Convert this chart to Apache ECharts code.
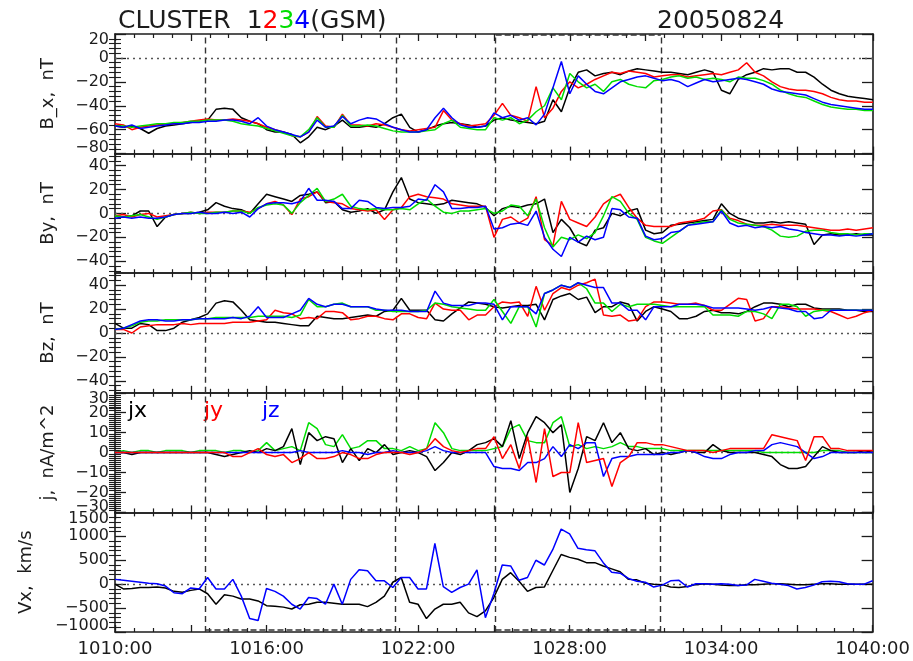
<!DOCTYPE html>
<html>
<head>
<meta charset="utf-8">
<script src="https://cdn.jsdelivr.net/npm/echarts@6/dist/echarts.min.js"></script>
<style>
  html, body { margin: 0; padding: 0; background: #ffffff; }
  #chart { width: 913px; height: 661px; }
</style>
</head>
<body>
<div id="chart"></div>
<script>
// Sample spacing of the traces, in seconds after 10:10:00 UT
const STEP_SEC = 20;
const START_MIN = 10 * 60 + 10;   // 1010 UT
const END_SEC = 1800;             // 1040 UT

// Times (s) of the four reference epochs marked by dashed lines
const eventSec = [215, 667, 904, 1296];

// ---- Magnetic field, GSM (nT), spacecraft C1..C4 ----
const bxC1 = [-57,-58,-57,-59,-63,-59,-57,-56,-55,-54,
  -53,-52,-43,-42,-43,-50,-53,-55,-60,-62,
  -62,-64,-71,-66,-58,-60,-57,-52,-58,-58,
  -57,-58,-55,-50,-47,-58,-62,-60,-57,-55,
  -54,-55,-56,-58,-57,-52,-50,-52,-53,-54,
  -55,-53,-35,-45,-25,-12,-10,-15,-13,-12,
  -14,-11,-9,-10,-11,-12,-12,-13,-14,-12,
  -10,-12,-27,-30,-18,-14,-12,-9,-10,-9,
  -9,-12,-12,-16,-22,-27,-30,-32,-33,-34,
  -35];
const bxC2 = [-55,-56,-60,-58,-57,-56,-55,-55,-54,-53,
  -52,-51,-52,-52,-51,-52,-53,-55,-58,-60,
  -62,-65,-66,-62,-49,-57,-58,-47,-56,-56,
  -57,-55,-56,-58,-60,-61,-60,-59,-58,-44,
  -52,-55,-57,-56,-55,-48,-38,-48,-50,-53,
  -24,-50,-42,-28,-20,-25,-22,-18,-15,-12,
  -13,-11,-12,-13,-16,-15,-14,-14,-16,-15,
  -14,-13,-14,-12,-10,-4,-12,-15,-20,-24,
  -26,-27,-27,-28,-30,-33,-35,-36,-36,-37,
  -37];
const bxC3 = [-57,-57,-58,-57,-56,-55,-55,-54,-54,-53,
  -53,-52,-52,-52,-53,-55,-56,-57,-59,-61,
  -63,-65,-66,-60,-50,-58,-58,-48,-57,-57,
  -56,-57,-59,-61,-62,-62,-62,-61,-60,-55,
  -52,-58,-59,-60,-60,-50,-52,-50,-55,-52,
  -45,-40,-25,-35,-13,-20,-25,-22,-28,-20,
  -18,-22,-24,-25,-19,-18,-16,-15,-17,-16,
  -18,-17,-18,-20,-16,-17,-17,-19,-22,-27,
  -30,-32,-33,-36,-39,-41,-42,-43,-43,-44,
  -44];
const bxC4 = [-57,-58,-56,-59,-58,-57,-56,-55,-55,-54,
  -54,-53,-53,-52,-52,-53,-55,-50,-57,-60,
  -62,-64,-66,-62,-52,-58,-57,-49,-55,-52,
  -50,-51,-55,-58,-60,-62,-62,-60,-50,-42,
  -50,-56,-58,-58,-57,-46,-50,-48,-52,-50,
  -56,-47,-25,-3,-30,-15,-22,-28,-30,-25,
  -20,-18,-16,-15,-17,-19,-18,-20,-24,-21,
  -18,-20,-19,-18,-17,-18,-20,-22,-26,-28,
  -29,-30,-31,-34,-37,-39,-40,-41,-42,-43,
  -43];

const byC1 = [-2,-3,-2,2,2,-11,-3,-1,0,0,
  1,3,9,6,4,3,0,8,16,14,
  12,10,15,16,18,9,10,3,1,2,
  4,0,3,18,30,12,9,8,7,8,
  11,10,9,8,5,-2,4,6,5,7,
  8,12,-16,-5,-12,-24,-27,-14,-12,0,
  -2,2,4,-14,-17,-16,-10,-9,-8,-7,
  -6,-5,8,0,-4,-6,-8,-8,-7,-8,
  -7,-8,-9,-26,-18,-17,-18,-18,-17,-18,
  -18];
const byC2 = [-2,-1,-3,-1,0,-3,-2,-1,0,1,
  0,1,1,1,2,2,1,4,8,10,
  7,-1,12,14,18,10,9,8,4,3,
  2,3,-5,3,5,14,16,14,13,12,
  8,7,6,6,6,-20,-5,-3,-8,-4,
  14,-22,-27,10,-5,-8,-11,-3,8,13,
  16,5,-4,-10,-11,-11,-11,-8,-7,-6,
  -4,2,3,-4,-6,-9,-10,-10,-9,-10,
  -10,-10,-11,-12,-13,-14,-14,-13,-14,-13,
  -12];
const byC3 = [-2,-3,-2,-1,-3,-5,-3,-1,0,1,
  0,0,1,1,2,2,0,5,7,8,
  7,0,9,15,21,10,12,16,6,4,
  3,4,3,3,4,3,8,12,6,1,
  0,2,2,3,4,0,2,7,6,-2,
  12,-12,-28,-20,-22,-18,-21,-16,-2,14,
  10,0,-5,-20,-23,-25,-20,-15,-10,-8,
  -7,-7,3,-5,-8,-9,-10,-11,-14,-19,
  -20,-19,-15,-14,-14,-16,-17,-17,-18,-17,
  -17];
const byC4 = [-4,-3,-4,-3,-4,-4,-3,-1,0,0,
  1,0,0,1,0,1,-3,4,8,9,
  9,8,10,21,11,11,10,4,4,11,
  10,5,4,5,5,6,12,11,24,18,
  4,4,5,5,6,-13,-12,-9,-8,-10,
  2,-20,-30,-36,-20,-24,-19,-22,-20,4,
  3,-3,-4,-19,-22,-21,-16,-15,-10,-9,
  -8,-7,2,-8,-11,-10,-12,-11,-12,-11,
  -13,-14,-16,-17,-18,-18,-19,-18,-19,-18,
  -17];

const bzC1 = [8,4,4,8,7,2,2,4,9,11,
  13,16,25,27,26,19,11,10,9,9,
  8,7,6,6,14,13,12,12,13,14,
  15,14,18,19,29,19,19,19,11,10,
  16,21,26,25,24,22,21,22,23,23,
  24,11,28,31,33,28,30,17,22,22,
  26,24,10,18,22,20,18,12,12,14,
  18,19,17,17,16,18,22,25,25,24,
  22,24,24,21,20,20,20,19,19,18,
  18];
const bzC2 = [3,3,0,5,6,7,7,7,8,7,
  8,8,8,8,9,9,9,10,11,19,
  17,16,12,13,12,18,18,17,11,12,
  14,14,12,11,16,16,13,12,25,20,
  19,19,11,15,15,22,26,25,26,14,
  39,19,33,38,36,40,42,45,15,14,
  15,10,11,22,26,26,25,24,24,25,
  23,19,19,24,29,28,10,12,22,22,
  21,20,20,20,19,18,15,12,14,17,
  19];
const bzC3 = [3,4,6,9,10,10,11,11,11,11,
  12,12,13,13,13,13,13,14,14,14,
  14,13,15,28,22,22,24,25,22,22,
  22,19,19,18,18,18,18,19,25,24,
  22,21,20,19,19,28,18,8,22,22,
  5,33,36,40,38,42,37,25,25,18,
  24,22,24,24,24,23,22,22,22,22,
  22,15,15,15,14,18,18,16,12,24,
  24,22,14,18,19,19,19,19,19,19,
  19];
const bzC4 = [3,4,7,10,11,11,10,10,11,11,
  12,12,12,12,13,12,14,22,13,13,
  13,16,19,29,24,22,24,24,22,22,
  22,20,19,19,19,18,18,18,35,25,
  23,23,23,25,25,24,11,22,22,22,
  16,33,36,40,38,42,40,38,38,25,
  25,19,19,11,22,22,22,24,24,24,
  23,21,21,21,21,20,19,20,22,21,
  20,18,18,12,13,19,19,19,19,19,
  19];

// ---- Current density (nA/m^2) ----
const jx = [0,0,-1,0,0,0,0,0,0,0,
  0,0,-1,-2,-1,0,1,0,2,1,
  3,12,-6,10,6,8,7,-5,2,-4,
  2,0,4,-1,0,1,0,-2,-9,-5,
  0,-1,1,4,5,7,3,16,-3,10,
  18,15,10,14,-20,-8,8,6,15,5,
  10,2,1,2,-1,0,-1,0,1,0,
  0,4,1,0,0,0,0,-1,-2,-6,
  -8,-8,-7,-2,3,1,0,0,0,1,
  0];
const jy = [0,0,0,0,0,0,0,0,0,0,
  0,0,0,0,-2,-2,0,2,-1,-2,
  -1,-5,-3,0,-3,-3,-2,0,-1,-3,
  -3,-1,0,0,0,-1,0,2,7,3,
  1,0,1,2,2,8,-3,4,-8,8,
  -15,12,-12,-10,-10,15,-5,-4,-3,-17,
  -5,-2,5,5,4,4,3,2,1,1,
  1,0,1,2,2,2,2,2,9,8,
  7,6,-4,8,8,2,2,1,1,1,
  1];
const jz = [0,0,0,0,0,0,0,0,0,0,
  0,0,0,0,0,0,0,0,0,0,
  0,0,1,0,0,0,0,1,0,0,
  -1,0,0,1,0,0,0,1,3,1,
  0,0,0,0,0,-7,-8,-8,-9,-5,
  -5,-3,3,-2,4,2,5,5,-12,-3,
  -2,-2,-1,-1,-1,-1,0,0,1,0,
  -2,-3,-3,-1,0,0,1,1,4,5,
  4,3,0,-3,-2,0,0,0,0,0,
  0];
const jOther = [0,1,0,1,1,0,1,1,1,0,
  1,1,1,0,1,1,0,1,5,1,
  2,3,1,15,12,4,3,9,2,3,
  6,6,2,2,1,3,1,2,15,10,
  2,1,1,1,1,2,3,12,14,6,
  5,5,15,18,3,4,2,3,2,3,
  5,3,3,2,2,2,1,1,1,1,
  1,1,1,1,1,1,1,0,0,0,
  0,0,0,0,1,1,1,0,0,0,
  0];

// ---- Ion velocity X (km/s) ----
const vxC1 = [0,-100,-90,-70,-70,-60,-80,-150,-170,-130,
  -100,-200,-420,-220,-250,-310,-310,-350,-450,-460,
  -480,-520,-430,-420,-380,-380,-400,-420,-420,-420,
  -470,-380,-250,40,140,-380,-420,-720,-520,-420,
  -420,-380,-600,-680,-560,-280,100,240,60,-150,
  -70,-60,280,620,560,520,450,450,380,320,
  260,100,90,20,0,-10,-60,-70,-50,-10,
  10,0,-20,-30,-30,-10,-10,0,10,10,
  0,-10,-10,0,10,10,0,0,0,0,
  0];
const vxC4 = [100,80,60,40,20,10,-40,-180,-200,-80,
  -100,140,-100,-100,100,-250,-720,-760,-90,-150,
  -250,-420,-520,-280,-300,-420,0,-420,100,300,
  280,70,70,-70,140,140,-100,-100,850,-50,
  -170,-70,0,300,-700,-200,400,380,80,140,
  500,400,720,1150,1050,750,720,700,450,250,
  230,120,60,40,-60,-20,70,80,-60,10,
  10,0,10,0,-30,-20,100,60,20,0,
  -30,-100,-70,-20,50,60,50,10,0,0,
  70];

// ---------------------------------------------------------------
const FONT = '"DejaVu Sans", "Liberation Sans", sans-serif';
const TEXT = '#1c1c1c';
const FRAME = '#1c1c1c';
const COL = { c1: '#000000', c2: '#ff0000', c3: '#00dd00', c4: '#0000ff' };

const GRID_LEFT = 115, GRID_W = 758, GRID_TOP = 34, PANEL_H = 119.6;

const timeSec = bxC1.map((_, i) => i * STEP_SEC);

const panels = [
  { name: 'B_x,  nT', min: -80, max: 20, major: 20, minor: 4, nameGap: 58, nudge: true,
    traces: [[bxC1, COL.c1], [bxC2, COL.c2], [bxC3, COL.c3], [bxC4, COL.c4]] },
  { name: 'By,  nT', min: -50, max: 50, major: 20, minor: 4, nameGap: 58, nudge: false,
    traces: [[byC1, COL.c1], [byC2, COL.c2], [byC3, COL.c3], [byC4, COL.c4]] },
  { name: 'Bz,  nT', min: -50, max: 50, major: 20, minor: 4, nameGap: 58, nudge: false,
    traces: [[bzC1, COL.c1], [bzC2, COL.c2], [bzC3, COL.c3], [bzC4, COL.c4]] },
  { name: 'j,  nA/m^2', min: -30, max: 30, major: 10, minor: 1, nameGap: 58, nudge: true,
    traces: [[jOther, COL.c3], [jx, COL.c1], [jz, COL.c4], [jy, COL.c2]] },
  { name: 'Vx,  km/s', min: -1000, max: 1500, major: 500, minor: 100, nameGap: 80, nudge: true,
    traces: [[vxC1, COL.c1], [vxC4, COL.c4]] }
];

function stepsFrom(min, max, step) {
  const out = [];
  for (let v = Math.ceil(min / step) * step; v <= max; v += step) out.push(v);
  return out;
}

function clock(sec) {
  const m = START_MIN + sec / 60;
  const hh = Math.floor(m / 60), mm = Math.round(m % 60);
  return String(hh) + String(mm).padStart(2, '0') + ':00';
}

const signed = v => String(v).replace('-', '\u2212');

const grids = [], xAxes = [], yAxes = [], series = [];
const frameLine = { show: true, onZero: false, lineStyle: { color: FRAME, width: 1.6 } };
const labelText = { fontSize: 16, lineHeight: 12, fontFamily: FONT, color: TEXT, margin: 6 };

panels.forEach((p, k) => {
  const top = GRID_TOP + k * PANEL_H;
  grids.push({ left: GRID_LEFT, width: GRID_W, top: top, height: PANEL_H, containLabel: false });

  ['bottom', 'top'].forEach(pos => {
    xAxes.push({
      gridIndex: k, type: 'value', position: pos, min: 0, max: END_SEC, interval: 180,
      axisLine: frameLine,
      axisTick: { show: true, inside: true, length: 7, lineStyle: { color: FRAME, width: 1.3 } },
      minorTick: { show: true, splitNumber: 4, length: 4, lineStyle: { color: FRAME, width: 1.2 } },
      splitLine: { show: false }, minorSplitLine: { show: false },
      axisLabel: {
        show: pos === 'bottom' && k === panels.length - 1,
        showMinLabel: true, showMaxLabel: true,
        margin: 8, fontSize: 18, fontFamily: FONT, color: TEXT,
        formatter: v => (v % 360 === 0 ? clock(v) : '')
      }
    });
  });

  const majors = stepsFrom(p.min, p.max, p.major);
  const minors = stepsFrom(p.min, p.max, p.minor).filter(v => v % p.major !== 0);
  // Labels sitting on the frame edges are drawn by a companion axis and pulled inward
  const edgeLabels = p.nudge ? majors.filter(v => v === p.min || v === p.max) : [];
  const innerLabels = majors.filter(v => edgeLabels.indexOf(v) < 0);

  ['left', 'right'].forEach(pos => {
    const main = {
      gridIndex: k, type: 'value', position: pos, min: p.min, max: p.max,
      axisLine: frameLine,
      axisTick: { show: true, inside: true, length: 11, customValues: majors,
                  lineStyle: { color: FRAME, width: 1.3 } },
      splitLine: { show: false },
      axisLabel: { show: false }
    };
    const minor = {
      gridIndex: k, type: 'value', position: pos, min: p.min, max: p.max,
      axisLine: { show: false },
      axisTick: { show: true, inside: true, length: 6, customValues: minors,
                  lineStyle: { color: FRAME, width: 1.1 } },
      splitLine: { show: false },
      axisLabel: { show: false }
    };
    if (pos === 'left') {
      main.axisLabel = Object.assign({
        show: true, customValues: innerLabels,
        showMinLabel: true, showMaxLabel: true, hideOverlap: false,
        formatter: signed
      }, labelText);
      main.name = p.name;
      main.nameLocation = 'middle';
      main.nameGap = p.nameGap;
      main.nameRotate = 90;
      main.nameTextStyle = { fontSize: 18, fontFamily: FONT, color: TEXT };
      if (edgeLabels.length) {
        minor.axisLabel = Object.assign({
          show: true, customValues: edgeLabels,
          showMinLabel: true, showMaxLabel: true, hideOverlap: false,
          verticalAlignMinLabel: 'bottom', verticalAlignMaxLabel: 'top',
          formatter: signed
        }, labelText);
      }
    }
    yAxes.push(main);
    yAxes.push(minor);
  });

  p.traces.forEach(([values, color], n) => {
    const s = {
      type: 'line', xAxisIndex: 2 * k, yAxisIndex: 4 * k,
      data: values.map((v, i) => [timeSec[i], v]),
      showSymbol: false, symbol: 'none', smooth: false,
      lineStyle: { color: color, width: 1.5 }, itemStyle: { color: color },
      z: 3 + n, silent: true
    };
    if (n === 0) {
      const marks = [{ yAxis: 0, lineStyle: { type: [2, 4], color: '#555', width: 1.3 } }];
      eventSec.forEach(t => marks.push({ xAxis: t, lineStyle: { type: [6, 4], color: '#333', width: 1.4 } }));
      if (k === 0) {
        marks.push([{ coord: [eventSec[2], p.max - 0.8], lineStyle: { type: [6, 3], color: '#333', width: 1.6 } },
                    { coord: [eventSec[3], p.max - 0.8] }]);
      }
      if (k === panels.length - 1) {
        [[0, 1], [2, 3]].forEach(([a, b]) => {
          marks.push([{ coord: [eventSec[a], p.min + 45], lineStyle: { type: [6, 3], color: '#333', width: 1.6 } },
                      { coord: [eventSec[b], p.min + 45] }]);
        });
      }
      s.markLine = { silent: true, symbol: ['none', 'none'], label: { show: false },
                     animation: false, data: marks, z: 1 };
    }
    series.push(s);
  });
});

const titleRich = {
  k: { fontSize: 25, fontFamily: FONT, color: TEXT, fontWeight: 'normal' },
  r: { fontSize: 25, fontFamily: FONT, color: COL.c2, fontWeight: 'normal' },
  g: { fontSize: 25, fontFamily: FONT, color: COL.c3, fontWeight: 'normal' },
  b: { fontSize: 25, fontFamily: FONT, color: COL.c4, fontWeight: 'normal' }
};

const option = {
  animation: false,
  backgroundColor: '#ffffff',
  title: [
    { text: '{k|CLUSTER  1}{r|2}{g|3}{b|4}{k|(GSM)}', left: 113, top: 4,
      textStyle: { fontWeight: 'normal', rich: titleRich } },
    { text: '20050824', left: 652, top: 4,
      textStyle: { fontSize: 25, fontFamily: FONT, color: TEXT, fontWeight: 'normal' } }
  ],
  graphic: [
    { type: 'text', left: 128, top: 400, silent: true,
      style: { text: 'jx', fill: COL.c1, font: '22px ' + FONT } },
    { type: 'text', left: 204, top: 400, silent: true,
      style: { text: 'jy', fill: COL.c2, font: '22px ' + FONT } },
    { type: 'text', left: 262, top: 400, silent: true,
      style: { text: 'jz', fill: COL.c4, font: '22px ' + FONT } }
  ],
  grid: grids,
  xAxis: xAxes,
  yAxis: yAxes,
  series: series
};

const chart = echarts.init(document.getElementById('chart'), null, { renderer: 'canvas' });
chart.setOption(option);
</script>
</body>
</html>
